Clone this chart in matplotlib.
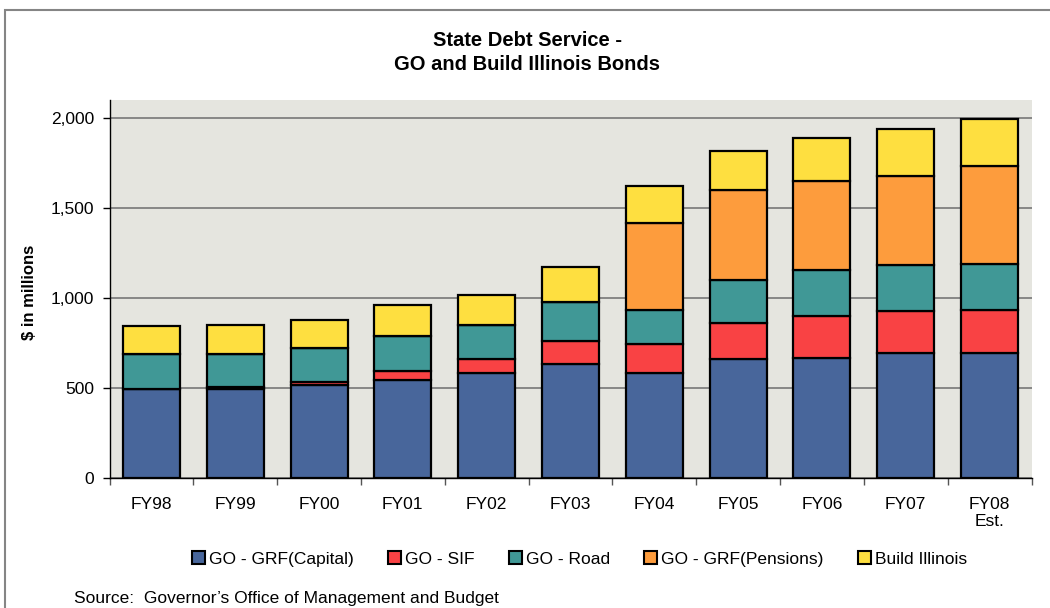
import matplotlib
matplotlib.use("Agg")
import matplotlib.pyplot as plt
from matplotlib.patches import Rectangle, Patch
from matplotlib.ticker import FuncFormatter, FixedLocator

plt.rcParams['font.family'] = ['Liberation Sans', 'DejaVu Sans']

years = ["FY98", "FY99", "FY00", "FY01", "FY02", "FY03",
         "FY04", "FY05", "FY06", "FY07", "FY08\nEst."]
grf_capital = [494, 496, 517, 546, 583, 631, 583, 663, 667, 694, 694]
go_sif = [0, 8, 16, 48, 76, 130, 161, 198, 231, 234, 239]
go_road = [193, 188, 187, 196, 194, 217, 191, 239, 256, 255, 256]
grf_pensions = [0, 0, 0, 0, 0, 0, 484, 500, 498, 494, 548]
build_illinois = [159, 156, 159, 169, 167, 193, 205, 218, 239, 264, 261]

series = [
    ("GO - GRF(Capital)", grf_capital, "#48669B"),
    ("GO - SIF", go_sif, "#F94244"),
    ("GO - Road", go_road, "#409896"),
    ("GO - GRF(Pensions)", grf_pensions, "#FD9C3D"),
    ("Build Illinois", build_illinois, "#FEDF40"),
]

fig = plt.figure(figsize=(10.5, 6.08), dpi=100)

# grey frame around the whole chart
fig.patches.append(Rectangle((5 / 1050, -0.05), 1.2, 1 - 10 / 608 + 0.05,
                             transform=fig.transFigure, fill=False,
                             edgecolor="#858585", linewidth=1.5))

ax = fig.add_axes([109.5 / 1050, 130 / 608, 922 / 1050, 378.5 / 608])
ax.set_facecolor("#E5E5DF")

x = range(len(years))
bottom = [0] * len(years)
for name, vals, color in series:
    ax.bar(x, vals, width=0.68, bottom=bottom, color=color,
           edgecolor="black", linewidth=1.6, label=name, zorder=3)
    bottom = [b + v for b, v in zip(bottom, vals)]

ax.set_xlim(-0.5, len(years) - 0.5)
ax.set_ylim(0, 2104)
ax.set_yticks([0, 500, 1000, 1500, 2000])
ax.yaxis.set_major_formatter(FuncFormatter(lambda v, p: f"{int(v):,}"))
ax.grid(axis="y", color="#6e6e6e", linewidth=1.1, zorder=1)

ax.set_xticks(list(x))
ax.set_xticklabels(years, fontsize=12.5, linespacing=1.1)
ax.xaxis.set_minor_locator(FixedLocator([i - 0.5 for i in range(len(years) + 1)]))
ax.tick_params(axis="x", which="major", length=0, pad=14)
ax.tick_params(axis="x", which="minor", length=5, width=1, color="#555555")
ax.tick_params(axis="y", length=5, width=1, labelsize=12.5, pad=6)

for s in ["top", "right"]:
    ax.spines[s].set_visible(False)
ax.spines["left"].set_linewidth(1)
ax.spines["bottom"].set_linewidth(1)

ax.set_ylabel("$ in millions", fontsize=12, fontweight="bold")
ax.yaxis.set_label_coords(-0.079, 0.49)

fig.text(0.502, 1 - 52.5 / 608, "State Debt Service -\nGO and Build Illinois Bonds",
         ha="center", va="center", fontsize=14.5, fontweight="bold",
         linespacing=1.3)

handles = [Patch(facecolor=c, edgecolor="black", linewidth=1.5) for _, _, c in series]
fig.legend(handles, [n for n, _, _ in series], loc="center",
           bbox_to_anchor=(0.552, 1 - 559 / 608), ncol=5, frameon=False,
           fontsize=12.5, handlelength=0.75, handleheight=0.75,
           handletextpad=0.25, columnspacing=1.95)

fig.text(74 / 1050, 1 - 598 / 608, "Source:  Governor\u2019s Office of Management and Budget",
         ha="left", va="center", fontsize=12.5)

fig.savefig("out.png", dpi=100)
